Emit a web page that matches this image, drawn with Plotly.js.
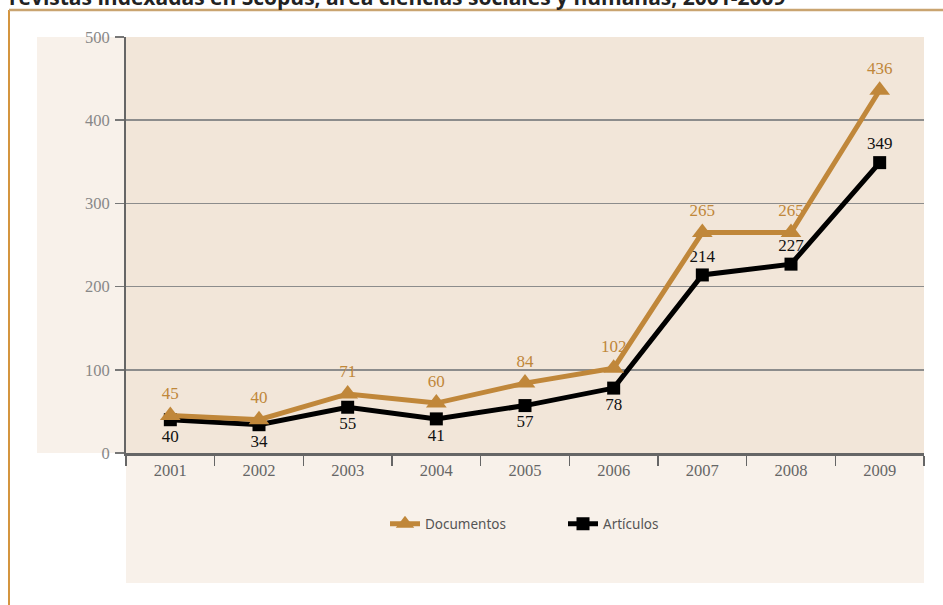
<!DOCTYPE html>
<html>
<head>
<meta charset="utf-8">
<script src="https://cdn.plot.ly/plotly-3.0.1.min.js"></script>
<style>html,body{margin:0;padding:0;background:#fff;}#chart{width:943px;height:605px;}</style>
</head>
<body>
<div id="chart"></div>
<script>
var years = ['2001','2002','2003','2004','2005','2006','2007','2008','2009'];
var documentos = [45, 40, 71, 60, 84, 102, 265, 265, 436];
var articulos = [40, 34, 55, 41, 57, 78, 214, 227, 349];
var yTicks = [0, 100, 200, 300, 400, 500];
var titleText = 'revistas indexadas en Scopus, área ciencias sociales y humanas, 2001-2009';

var tan = '#c0873a';
var artPos = articulos.map(function(v, i){ return i >= 6 ? 'top center' : 'bottom center'; });

var traces = [
  {x: years, y: documentos, name: 'Documentos', type: 'scatter', mode: 'lines+markers+text',
   line: {color: tan, width: 5}, marker: {symbol: 'triangle-up', size: 18, color: tan},
   text: documentos.map(String), textposition: 'top center',
   textfont: {family: 'Liberation Serif', size: 17, color: tan}, cliponaxis: false},
  {x: years, y: articulos, name: 'Artículos', type: 'scatter', mode: 'lines+markers+text',
   line: {color: '#000', width: 5}, marker: {symbol: 'square', size: 13, color: '#000'},
   text: articulos.map(String), textposition: artPos,
   textfont: {family: 'Liberation Serif', size: 17, color: '#111'}, cliponaxis: false}
];
traces = [traces[1], traces[0]];

var W = 798, H = 416, L = 126, T = 37;
function px(x){ return (x - L) / W; }
function py(y){ return (T + H - y) / H; }

var layout = {
  width: 943, height: 605,
  margin: {l: L, r: 943 - L - W, t: T, b: 605 - T - H},
  paper_bgcolor: '#ffffff', plot_bgcolor: '#f2e6d9',
  showlegend: true,
  legend: {orientation: 'h', x: px(385), xanchor: 'left', y: py(524), yanchor: 'middle',
    font: {family: 'Noto Sans', size: 13.5, color: '#555'}, bgcolor: 'rgba(0,0,0,0)',
    traceorder: 'reversed', entrywidth: 133},
  xaxis: {type: 'category', range: [-0.5, 8.5], tickson: 'boundaries', ticks: 'outside', ticklen: 10,
    tickcolor: '#666', tickwidth: 1.5, showline: true, linecolor: '#666', linewidth: 3,
    showgrid: false, zeroline: false, fixedrange: true,
    tickfont: {family: 'Liberation Serif', size: 16.5, color: '#666'}},
  yaxis: {range: [0, 500], tickvals: yTicks, ticks: 'outside', ticklen: 9, tickcolor: '#777', tickwidth: 1.5,
    showline: true, linecolor: '#666', linewidth: 2, showgrid: true, gridcolor: '#8c8c8c', gridwidth: 1.5,
    zeroline: false, fixedrange: true, ticklabelstandoff: 2,
    tickfont: {family: 'Liberation Serif', size: 16.5, color: '#888'}},
  shapes: [
    {type: 'rect', xref: 'paper', yref: 'paper', x0: px(37), x1: 0, y0: 0, y1: 1,
     fillcolor: '#f8f1ea', line: {width: 0}, layer: 'below'},
    {type: 'rect', xref: 'paper', yref: 'paper', x0: 0, x1: 1, y0: py(583), y1: 0,
     fillcolor: '#f8f1ea', line: {width: 0}, layer: 'below'},
    {type: 'line', xref: 'paper', yref: 'paper', x0: px(9), x1: px(9), y0: py(606), y1: py(10),
     line: {color: '#d4953f', width: 2}, layer: 'below'},
    {type: 'line', xref: 'paper', yref: 'paper', x0: px(9), x1: px(945), y0: py(10), y1: py(10),
     line: {color: '#c9a470', width: 2.5}, layer: 'below'}
  ],
  annotations: [
    {text: '<b>' + titleText + '</b>', xref: 'paper', yref: 'paper', x: px(7), xanchor: 'left',
     y: py(-3), yanchor: 'middle', showarrow: false,
     font: {family: 'Open Sans', size: 21, color: '#222'}}
  ]
};

Plotly.newPlot('chart', traces, layout, {displayModeBar: false, staticPlot: true});
</script>
</body>
</html>
